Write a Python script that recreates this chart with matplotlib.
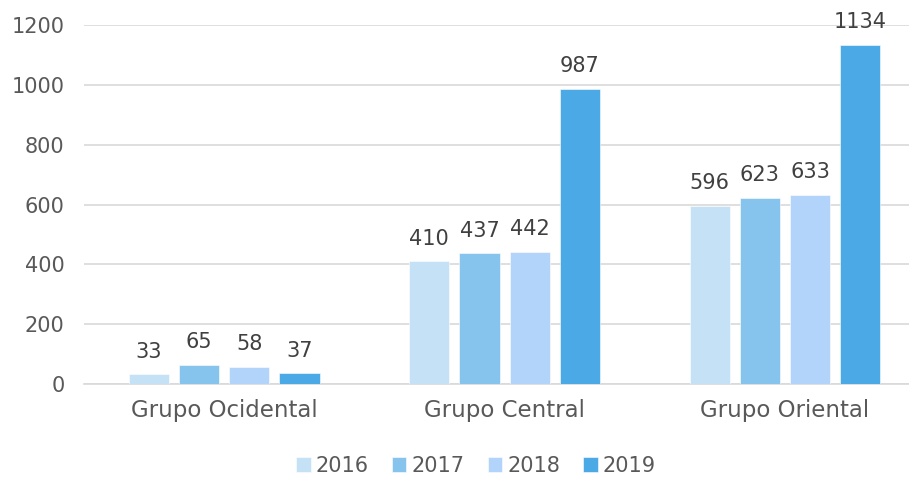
import numpy as np
import matplotlib.pyplot as plt

groups = ["Grupo Ocidental", "Grupo Central", "Grupo Oriental"]
years = ["2016", "2017", "2018", "2019"]
v2016 = [33, 410, 596]
v2017 = [65, 437, 623]
v2018 = [58, 442, 633]
v2019 = [37, 987, 1134]
colors = ["#C5E1F6", "#86C4EE", "#B2D3FA", "#4BA9E6"]

plt.rcParams['font.family'] = ['DejaVu Sans']
txt = "#595959"

fig = plt.figure(figsize=(9.09, 4.79), dpi=100)
ax = fig.add_axes([0.0924, 0.198, 0.91, 0.75])

x = np.arange(len(groups))
pitch = 0.179
width = 0.143
series = [v2016, v2017, v2018, v2019]
for i, (vals, yr) in enumerate(zip(series, years)):
    pos = x + (i - 1.5) * pitch
    bars = ax.bar(pos, vals, width, color=colors[i], label=yr,
                  edgecolor="white", linewidth=0.4, zorder=3)
    ax.bar_label(bars, padding=9, fontsize=15, color="#404040")

ax.set_xlim(-0.5, 2.45)
ax.set_ylim(0, 1200)
ax.set_yticks(range(0, 1201, 200))
ax.set_xticks(x)
ax.set_xticklabels(groups, fontsize=16.5)
ax.grid(axis="y", color="#D9D9D9", linewidth=1.2, zorder=0)
for s in ["top", "right", "left"]:
    ax.spines[s].set_visible(False)
ax.spines["bottom"].set_color("#D9D9D9")
ax.spines["bottom"].set_linewidth(1.2)
ax.tick_params(axis="y", labelsize=15)
ax.tick_params(axis="both", length=0, labelcolor=txt)
ax.tick_params(axis="x", pad=11)
ax.tick_params(axis="y", pad=14)

ax.legend(loc="center", bbox_to_anchor=(0.474, -0.228), ncol=4, frameon=False,
          fontsize=15, labelcolor=txt, handlelength=0.7, handleheight=0.7,
          handletextpad=0.25, columnspacing=1.1)

fig.savefig("out.png", dpi=100)
